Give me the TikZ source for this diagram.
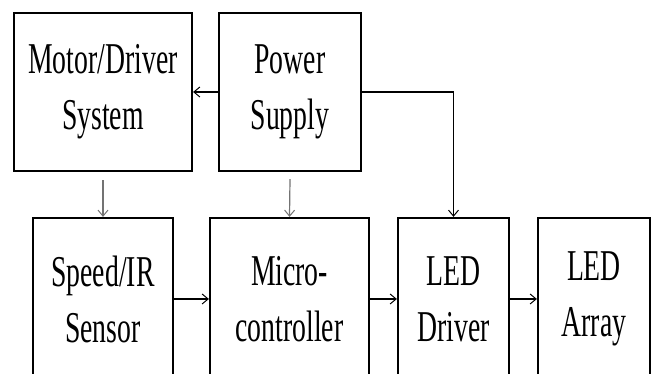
\documentclass[tikz,border=0pt]{standalone}
\usepackage{fontspec}
\setmainfont[FakeStretch=0.63]{Liberation Serif}
\usetikzlibrary{arrows.meta,calc}
\begin{document}
\begin{tikzpicture}[x=1pt,y=1pt,
  blk/.style={draw=black,line width=2.2pt,inner sep=0pt,align=center,
    font=\fontsize{44}{56}\selectfont},
  conn/.style={line width=1.2pt,-{Straight Barb[length=6pt,width=10pt,line width=1pt]}},
  gconn/.style={conn,draw=black!55}]
\clip (0,0) rectangle (654,374);
\fill[white] (0,0) rectangle (654,374);
\node[blk,minimum width=178pt,minimum height=158pt] (motor) at (103,282) {Motor/Driver\\System};
\node[blk,minimum width=142pt,minimum height=158pt] (power) at (290,282) {Power\\Supply};
\node[blk,minimum width=140pt,minimum height=162pt] (speed) at (103,75) {Speed/IR\\Sensor};
\node[blk,minimum width=159pt,minimum height=162pt] (micro) at (289.5,75) {Micro-\\controller};
\node[blk,minimum width=111pt,minimum height=162pt] (driver) at (453.5,75) {LED\\Driver};
\node[blk,minimum width=112pt,minimum height=162pt] (array) at (594,75) {LED\\Array};
\draw[conn] (power.west) -- (motor.east);
\draw[conn] (power.east) -| (driver.north);
\draw[gconn] ($(motor.south)+(0,-8)$) -- (speed.north);
\draw[gconn] ($(power.south)+(0,-7)$) -- (micro.north);
\draw[conn] (speed.east) -- (micro.west);
\draw[conn] (micro.east) -- (driver.west);
\draw[conn] (driver.east) -- (array.west);
\end{tikzpicture}
\end{document}
